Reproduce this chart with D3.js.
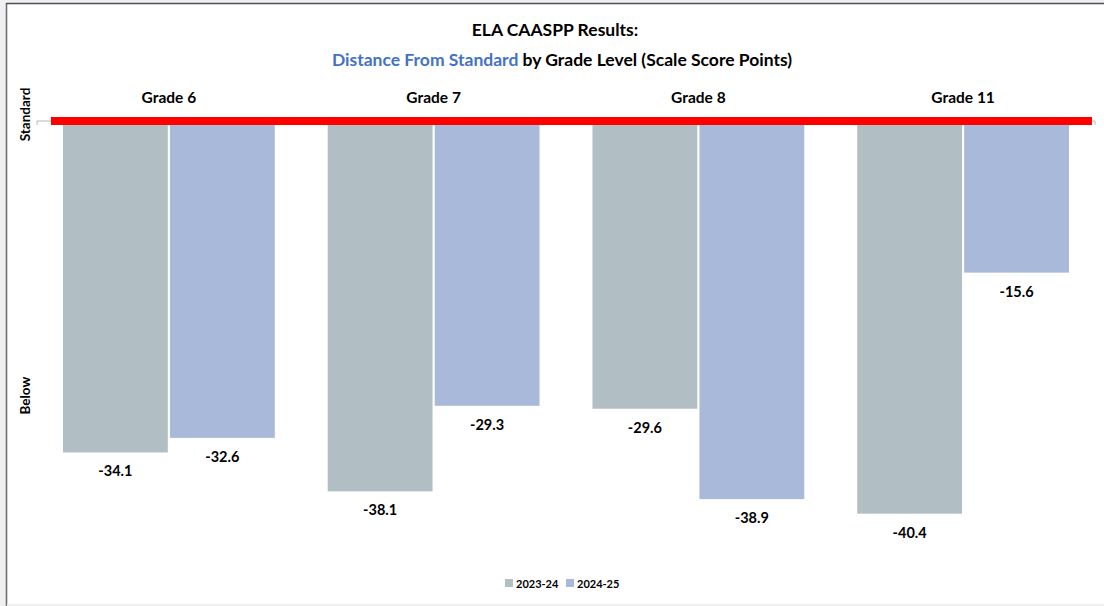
<!DOCTYPE html>
<html>
<head>
<meta charset="utf-8">
<script src="https://cdn.jsdelivr.net/npm/d3@7"></script>
<style>
  html, body { margin: 0; padding: 0; background: #f0f0f0; }
  svg { display: block; font-family: Lato, "Open Sans", sans-serif; }
</style>
</head>
<body>
<svg id="chart" width="1104" height="606"></svg>
<script>
// Grades and school years
const grades = ["Grade 6", "Grade 7", "Grade 8", "Grade 11"];
const years = ["2023-24", "2024-25"];
// Distance from standard, scale score points
const values2324 = [-34.1, -38.1, -29.6, -40.4];
const values2425 = [-32.6, -29.3, -38.9, -15.6];
// Vertical axis labels
const axisTicks = [0, -28.2];
const axisTickLabels = ["Standard", "Below"];

const colors = { "2023-24": "#b1bec4", "2024-25": "#a9b9d9" };

const svg = d3.select("#chart");
const W = 1104, H = 606;

// Page frame
svg.append("rect").attr("x", 7).attr("y", 4).attr("width", W - 7).attr("height", 600).attr("fill", "#ffffff");
svg.append("line").attr("x1", 6.5).attr("x2", 6.5).attr("y1", 3).attr("y2", 606).attr("stroke", "#6d7174").attr("stroke-width", 1.6);
svg.append("line").attr("x1", 6).attr("x2", W).attr("y1", 3.5).attr("y2", 3.5).attr("stroke", "#4a4f57").attr("stroke-width", 1.6);

// Title
const title = svg.append("text").attr("text-anchor", "middle").attr("font-weight", "bold").attr("font-size", 17.5);
title.append("tspan").attr("x", 555).attr("y", 36).attr("fill", "#000").text("ELA CAASPP Results:");
const t2 = title.append("tspan").attr("x", 562).attr("y", 66);
t2.append("tspan").attr("fill", "#4472c4").text("Distance From Standard");
t2.append("tspan").attr("fill", "#000").text(" by Grade Level (Scale Score Points)");

const data = grades.map((g, i) => ({ grade: g, vals: [
  { year: years[0], value: values2324[i] },
  { year: years[1], value: values2425[i] }
]}));

const x0 = d3.scaleBand().domain(grades).range([36.5, 1095.5]).paddingInner(0.2).paddingOuter(0.1);
const x1 = d3.scaleBand().domain(years).range([0, x0.bandwidth()]).paddingInner(0.02);
const y = d3.scaleLinear().domain([-50, 0]).range([121 + 50 * 9.72, 121]);

// Bars
const groups = svg.append("g").selectAll("g").data(data).join("g")
  .attr("transform", d => `translate(${x0(d.grade)},0)`);
groups.selectAll("rect").data(d => d.vals).join("rect")
  .attr("x", d => x1(d.year))
  .attr("width", x1.bandwidth())
  .attr("y", y(0))
  .attr("height", d => y(d.value) - y(0))
  .attr("fill", d => colors[d.year]);

// Value labels under bars
groups.selectAll("text.val").data(d => d.vals).join("text")
  .attr("class", "val")
  .attr("x", d => x1(d.year) + x1.bandwidth() / 2)
  .attr("y", d => y(d.value) + 24)
  .attr("text-anchor", "middle")
  .attr("font-weight", "bold")
  .attr("font-size", 14.5)
  .attr("fill", "#000")
  .text(d => d.value.toFixed(1));

// Grade labels above
svg.append("g").selectAll("text").data(grades).join("text")
  .attr("x", d => x0(d) + x0.bandwidth() / 2)
  .attr("y", 103)
  .attr("text-anchor", "middle")
  .attr("font-weight", "bold")
  .attr("font-size", 15.5)
  .attr("fill", "#000")
  .text(d => d);

// Vertical axis: tick labels only
const yAxis = d3.axisLeft(y).tickValues(axisTicks).tickSize(0).tickFormat((d, i) => axisTickLabels[i]);
const ax = svg.append("g").attr("transform", "translate(37,0)").call(yAxis);
ax.select(".domain").remove();
ax.selectAll(".tick text")
  .attr("transform", d => `translate(-12,${d === 0 ? -7 : 0}) rotate(-90)`)
  .attr("x", 0).attr("dy", "0.35em")
  .attr("text-anchor", "middle")
  .attr("font-family", "Lato, sans-serif")
  .attr("font-weight", "bold")
  .attr("font-size", 13.5)
  .attr("fill", "#000");
// Small tick marks at the zero line
svg.append("path").attr("d", `M37,${y(0) + 4}V${y(0)}H52`).attr("fill", "none").attr("stroke", "#b8b8b8").attr("stroke-width", 1);
svg.append("path").attr("d", `M1090,${y(0)}H1095V${y(0) + 4}`).attr("fill", "none").attr("stroke", "#b8b8b8").attr("stroke-width", 1);

// Standard line
svg.append("line").attr("x1", 51).attr("x2", 1092).attr("y1", y(0)).attr("y2", y(0))
  .attr("stroke", "#ff0000").attr("stroke-width", 8);

// Legend
const legend = svg.append("g").selectAll("g").data(years).join("g")
  .attr("transform", (d, i) => `translate(${505 + i * 61},579)`);
legend.append("rect").attr("width", 8).attr("height", 8).attr("fill", d => colors[d]);
legend.append("text").attr("x", 11).attr("y", 8.5)
  .attr("font-weight", "bold").attr("font-size", 11).attr("fill", "#000").text(d => d);

// Bottom strip
svg.append("rect").attr("x", 7).attr("y", 604).attr("width", W).attr("height", 2).attr("fill", "#f0f0f0");
</script>
</body>
</html>
